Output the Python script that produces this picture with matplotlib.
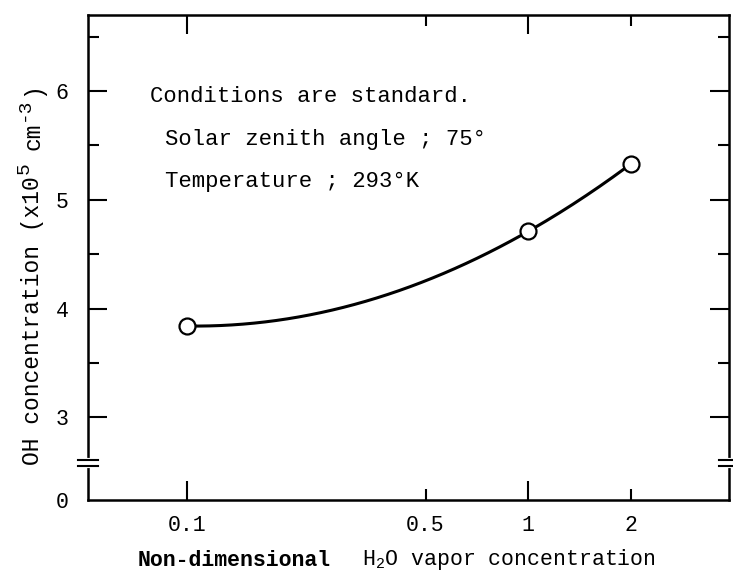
import matplotlib
matplotlib.use("Agg")
import matplotlib.pyplot as plt
import matplotlib.transforms as mtransforms
import numpy as np

plt.rcParams['font.family'] = ['Liberation Mono', 'DejaVu Sans Mono']
plt.rcParams['mathtext.fontset'] = 'custom'
plt.rcParams['mathtext.rm'] = 'Liberation Mono'
plt.rcParams['mathtext.it'] = 'Liberation Mono:italic'
plt.rcParams['mathtext.bf'] = 'Liberation Mono:bold'

# non-dimensional H2O vapor concentration vs OH concentration (x1e5 cm^-3)
h2o = [0.1, 1, 2]
oh = [3.84, 4.71, 5.33]

xticks_major = [0.1, 1]
xticks_minor = [0.5, 2]
xlabels_major = ['0.1', '1']
xlabels_minor = ['0.5', '2']

y_zero = 2.24      # where "0" sits on the broken axis
y_break = 2.58
yticks = [y_zero, 3, 4, 5, 6]
ylabels = ['0', '3', '4', '5', '6']
yticks_minor = [3.5, 4.5, 5.5, 6.5]

notes = ["Conditions are standard.",
         "Solar zenith angle ; 75°",
         "Temperature ; 293°K"]

fontsize = 15.5
W, H = 733, 577

fig = plt.figure(figsize=(W / 100, H / 100), dpi=100)
ax = fig.add_axes([88 / W, 1 - 500 / H, (729 - 88) / W, (500 - 15) / H])

# smooth curve through the three points (quadratic in log x)
t = np.log10(h2o)
coef = np.polyfit(t, oh, 2)
tt = np.linspace(t[0], t[-1], 200)
ax.plot(10 ** tt, np.polyval(coef, tt), color='black', lw=2.2)
ax.plot(h2o, oh, 'o', ms=11.5, mfc='white', mec='black', mew=1.6, zorder=3)

ax.set_xscale('log')
ax.set_xlim(0.0512, 3.88)
ax.set_ylim(y_zero, 6.70)

ax.set_xticks(xticks_major, labels=xlabels_major)
ax.set_xticks(xticks_minor, labels=xlabels_minor, minor=True)
ax.set_yticks(yticks, labels=ylabels)
ax.set_yticks(yticks_minor, minor=True)

ax.tick_params(which='both', direction='in', top=True, right=True,
               width=1.5, labelsize=fontsize)
ax.tick_params(which='major', length=14)
ax.tick_params(which='minor', length=8)
ax.tick_params(axis='x', which='both', pad=11)
ax.tick_params(axis='y', which='both', pad=14)
t0 = ax.yaxis.get_major_ticks()[0]
t0.tick1line.set_visible(False)
t0.tick2line.set_visible(False)

for s in ax.spines.values():
    s.set_linewidth(1.8)

# axis break marks on both sides
yb = (y_break - y_zero) / (6.70 - y_zero)
gap = 0.007
for xs in (0, 1):
    ax.plot([xs, xs], [yb - gap, yb + gap], color='white', lw=3,
            transform=ax.transAxes, clip_on=False, zorder=5)
    for yy in (yb - gap, yb + gap):
        ax.plot([xs - 0.016, xs + 0.016], [yy, yy], color='black', lw=1.5,
                transform=ax.transAxes, clip_on=False, zorder=6)

fig.text(150 / W, 1 - 97 / H, notes[0], fontsize=16, va='center', ha='left')
fig.text(165 / W, 1 - 140 / H, notes[1], fontsize=16, va='center', ha='left')
fig.text(165 / W, 1 - 182 / H, notes[2], fontsize=16, va='center', ha='left')

# y label built piece by piece so the exponents stay large
renderer = fig.canvas.get_renderer()
px = mtransforms.IdentityTransform()
ylab_parts = [('OH concentration (x10', 0, 16.5, 0),
              ('5', -9, 14, 2),
              ('cm', 0, 16.5, 12),
              ('-3', -9, 14, 2),
              (')', 0, 16.5, 2)]
ypos = H - 465
for txt, dx, size, skip in ylab_parts:
    ypos += skip
    tx = fig.text(33 + dx, ypos, txt, fontsize=size, rotation=90,
                  ha='center', va='bottom', transform=px)
    ypos = tx.get_window_extent(renderer).y1

fig.text(138 / W, 1 - 560 / H, 'Non-dimensional', fontsize=fontsize,
         fontweight='bold', va='center', ha='left')
fig.text(362 / W, 1 - 560 / H, 'H$_2$O vapor concentration',
         fontsize=fontsize, va='center', ha='left')

plt.savefig("out.png", dpi=100)
